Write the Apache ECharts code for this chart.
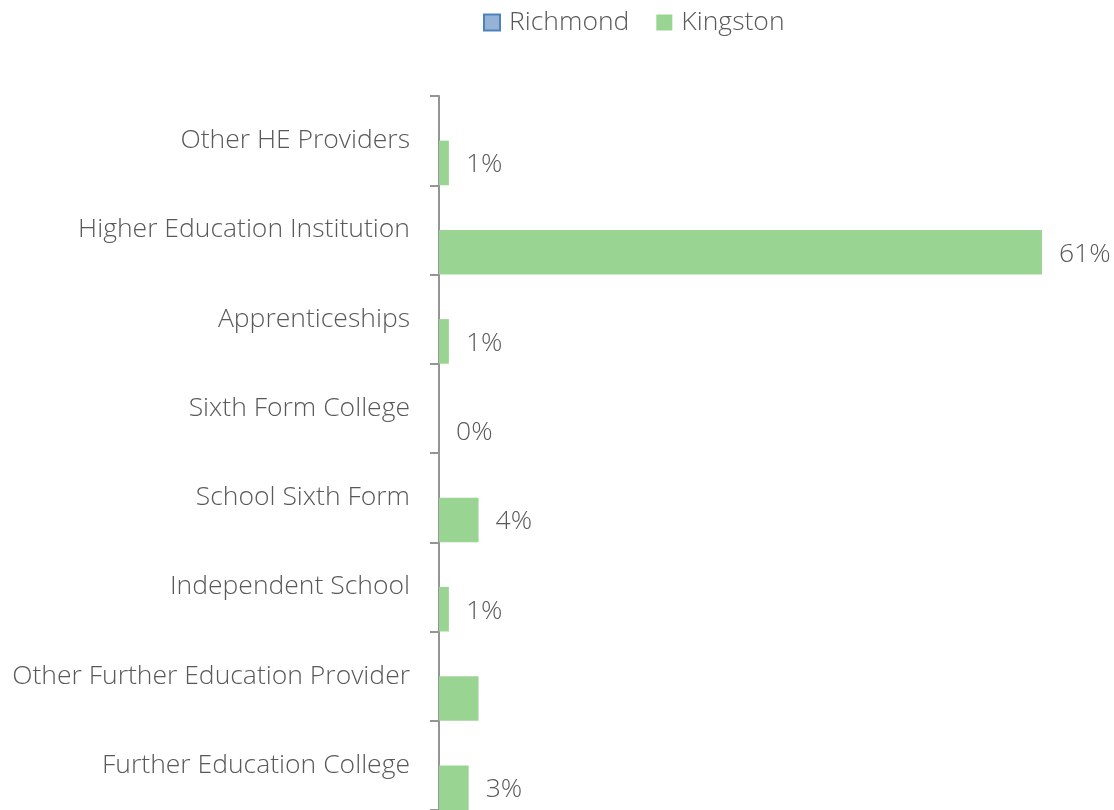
<!DOCTYPE html>
<html style="height:100%;width:100%;">

<head>
  <meta charset="utf-8">
  <title>Destinations bar</title>
  <script src="https://cdn.jsdelivr.net/npm/echarts@6/dist/echarts.min.js"></script>
</head>

<body style="margin:0px;height:100%;width:100%;background:#fff;">
  <div id="main" style="width:1114px;height:810px"></div>
  <script type="text/javascript" charset="utf-8">
    // categories, top to bottom
    var categories = [
      'Other HE Providers',
      'Higher Education Institution',
      'Apprenticeships',
      'Sixth Form College',
      'School Sixth Form',
      'Independent School',
      'Other Further Education Provider',
      'Further Education College'
    ];
    // Richmond has no values shown
    var richmond = [null, null, null, null, null, null, null, null];
    // Kingston, percent
    var kingston = [1, 61, 1, 0, 4, 1, 4, 3];
    // labels as printed on the chart ('' = no label)
    var kingstonLabels = ['1%', '61%', '1%', '0%', '4%', '1%', '', '3%'];

    var textColor = '#595959';
    var fontFam = '"Open Sans", sans-serif';
    var fSize = 26.5;
    var axisColor = '#959595';

    var myChart = echarts.init(document.getElementById('main'));

    var option = {
      animation: false,
      textStyle: { fontFamily: fontFam, fontWeight: 300 },
      legend: {
        top: 9,
        left: 483,
        padding: 0,
        itemWidth: 16,
        itemHeight: 16,
        itemGap: 27,
        textStyle: { fontSize: fSize, color: textColor, fontFamily: fontFam, fontWeight: 300, padding: [0, 0, 0, 4] },
        data: [
          { name: 'Richmond', icon: 'rect' },
          { name: 'Kingston', icon: 'rect' }
        ]
      },
      grid: {
        left: 439,
        top: 96,
        width: 642.5,
        height: 714.4,
        containLabel: false
      },
      xAxis: {
        type: 'value',
        min: 0,
        max: 65,
        show: false
      },
      yAxis: {
        type: 'category',
        inverse: true,
        data: categories,
        axisLine: { show: true, lineStyle: { color: axisColor, width: 2 } },
        axisTick: { show: true, length: 9, lineStyle: { color: axisColor, width: 2 } },
        axisLabel: {
          margin: 29,
          fontSize: fSize,
          color: textColor,
          fontFamily: fontFam,
          fontWeight: 300
        }
      },
      series: [{
        name: 'Richmond',
        type: 'bar',
        barGap: 0,
        barCategoryGap: 0,
        itemStyle: { color: '#95b3d7', borderColor: '#4f81bd', borderWidth: 1.5 },
        data: richmond
      }, {
        name: 'Kingston',
        type: 'bar',
        barGap: 0,
        barCategoryGap: 0,
        itemStyle: { color: '#99d492' },
        label: {
          show: true,
          position: 'right',
          distance: 17,
          offset: [0, 2],
          fontSize: fSize,
          color: textColor,
          fontFamily: fontFam,
          fontWeight: 300,
          formatter: function (p) {
            return kingstonLabels[p.dataIndex];
          }
        },
        data: kingston
      }]
    };

    myChart.setOption(option);
  </script>
</body>

</html>
